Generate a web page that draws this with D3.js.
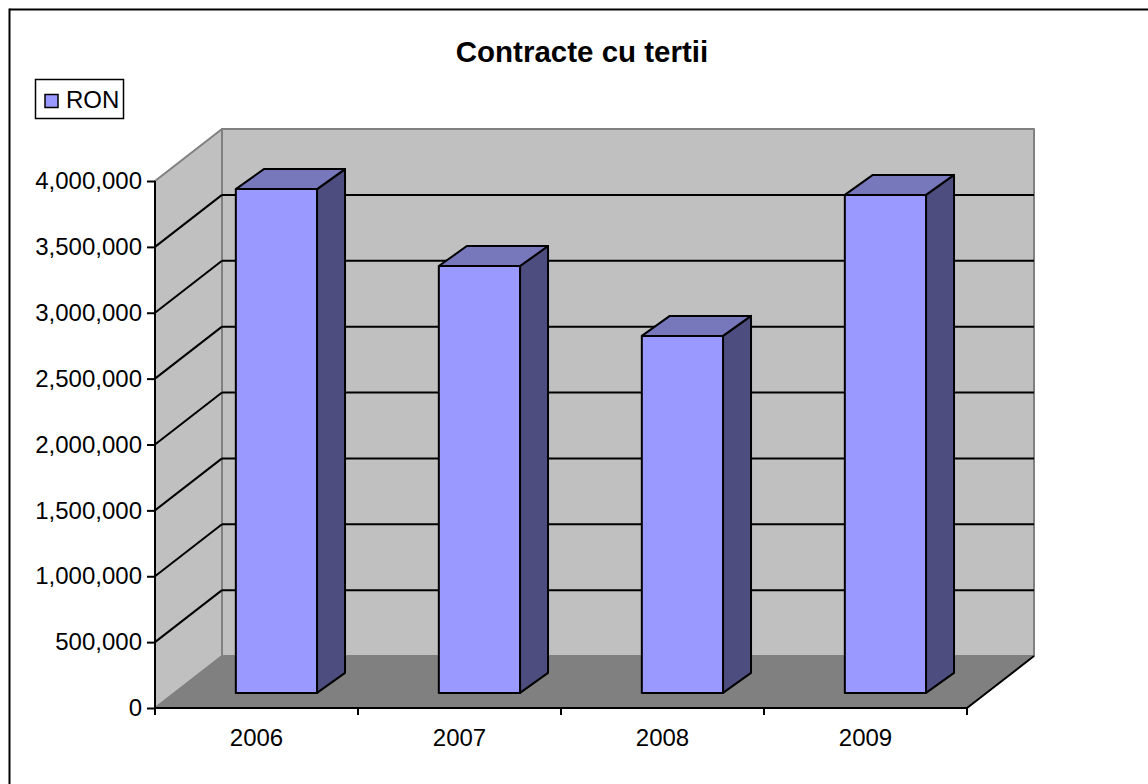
<!DOCTYPE html>
<html>
<head>
<meta charset="utf-8">
<title>Contracte cu tertii</title>
<script src="https://cdn.jsdelivr.net/npm/d3@7"></script>
<style>
  html, body { margin: 0; padding: 0; background: #fff; }
  svg { display: block; }
  text { font-family: "Liberation Sans", Arial, sans-serif; fill: #000; }
</style>
</head>
<body>
<svg width="1148" height="784"></svg>
<script>
"use strict";

const years = ["2006", "2007", "2008", "2009"];
const ron = [3824000, 3240000, 2710000, 3780000];
const yTicks = [0, 500000, 1000000, 1500000, 2000000, 2500000, 3000000, 3500000, 4000000];
const seriesName = "RON";
const chartTitle = "Contracte cu tertii";

// front plane of the 3d box, the back wall sits at an offset from it
const frontLeft = 155, frontRight = 967, frontBottom = 708, frontTop = 181;
const depthX = 67, depthY = -52;
const barDepth = 0.29;      // where the bars stand on the floor
const barNudge = 0.5;
const barThickX = 28, barThickY = -20;

const svg = d3.select("svg");

const xScale = d3.scaleBand().domain(years).range([frontLeft, frontRight]).paddingInner(0.6).paddingOuter(0.3);
const tickScale = d3.scalePoint().domain(d3.range(years.length + 1)).range([frontLeft, frontRight]);
const yScale = d3.scaleLinear().domain([0, 4000000]).range([frontBottom, frontTop]);

const line = d3.line();
function poly(points, fill, stroke, width) {
    svg.append("path")
        .attr("d", line(points) + "Z")
        .attr("fill", fill)
        .attr("stroke", stroke)
        .attr("stroke-width", width)
        .attr("stroke-linejoin", "round");
}
function seg(p, q, stroke, width) {
    svg.append("path")
        .attr("d", line([p, q]))
        .attr("fill", "none")
        .attr("stroke", stroke)
        .attr("stroke-width", width);
}

// outer chart frame, only top and left show up
seg([9.5, 9.5], [1148, 9.5], "#000", 2);
seg([9.5, 8.5], [9.5, 784], "#000", 2);

// walls and floor
const y0 = yScale(0), yMax = yScale(4000000);
poly([[frontLeft + depthX, yMax + depthY], [frontRight + depthX, yMax + depthY],
      [frontRight + depthX, y0 + depthY], [frontLeft + depthX, y0 + depthY]], "#c0c0c0", "#808080", 2);
poly([[frontLeft, yMax], [frontLeft + depthX, yMax + depthY],
      [frontLeft + depthX, y0 + depthY], [frontLeft, y0]], "#c0c0c0", "#808080", 2);
poly([[frontLeft, y0], [frontLeft + depthX, y0 + depthY],
      [frontRight + depthX, y0 + depthY], [frontRight, y0]], "#808080", "#808080", 1);
seg([frontRight, y0], [frontRight + depthX, y0 + depthY], "#000", 2);

// gridlines run across both walls
yTicks.filter(t => t > 0 && t < 4000000).forEach(function(t) {
    let y = yScale(t);
    seg([frontLeft, y], [frontLeft + depthX, y + depthY], "#000", 2);
    seg([frontLeft + depthX, y + depthY], [frontRight + depthX, y + depthY], "#000", 2);
});

// bars
years.forEach(function(year, i) {
    let x0 = xScale(year) + barDepth * depthX + barNudge;
    let x1 = x0 + xScale.bandwidth();
    let bottom = yScale(0) + barDepth * depthY;
    let top = bottom - (yScale(0) - yScale(ron[i]));
    poly([[x1, top], [x1 + barThickX, top + barThickY], [x1 + barThickX, bottom + barThickY], [x1, bottom]], "#4d4d80", "#000", 2);
    poly([[x0, top], [x0 + barThickX, top + barThickY], [x1 + barThickX, top + barThickY], [x1, top]], "#7777bb", "#000", 2);
    poly([[x0, top], [x1, top], [x1, bottom], [x0, bottom]], "#9999ff", "#000", 2);
});

// axes
const yAxis = d3.axisLeft(yScale).tickValues(yTicks).tickSize(8).tickPadding(5).tickFormat(d3.format(","));
const gy = svg.append("g").attr("transform", "translate(" + frontLeft + ",0)").call(yAxis);
gy.select(".domain").attr("stroke", "#000").attr("stroke-width", 2).attr("d", "M0," + yMax + "V" + (y0 + 7));
gy.selectAll("line").attr("stroke", "#000").attr("stroke-width", 2);
gy.selectAll("text").attr("font-size", 24).attr("font-family", "Liberation Sans");

seg([frontLeft, y0], [frontRight, y0], "#000", 2);
tickScale.domain().forEach(function(d) {
    let x = tickScale(d);
    seg([x, y0], [x, y0 + 7], "#000", 2);
});
const gx = svg.append("g");
gx.selectAll("text").data(years).join("text")
    .attr("x", d => xScale(d) + xScale.bandwidth() / 2)
    .attr("y", 745.5)
    .attr("text-anchor", "middle")
    .attr("font-size", 24)
    .text(d => d);

// title
svg.append("text")
    .attr("x", 582).attr("y", 62)
    .attr("text-anchor", "middle")
    .attr("font-size", 29.5)
    .attr("font-weight", "bold")
    .text(chartTitle);

// legend
svg.append("rect").attr("x", 35.5).attr("y", 79.5).attr("width", 88).attr("height", 39)
    .attr("fill", "#fff").attr("stroke", "#000").attr("stroke-width", 1.5);
svg.append("rect").attr("x", 45).attr("y", 94.5).attr("width", 13).attr("height", 13)
    .attr("fill", "#9999ff").attr("stroke", "#000").attr("stroke-width", 1.5);
svg.append("text").attr("x", 66).attr("y", 108).attr("font-size", 24).text(seriesName);
</script>
</body>
</html>
